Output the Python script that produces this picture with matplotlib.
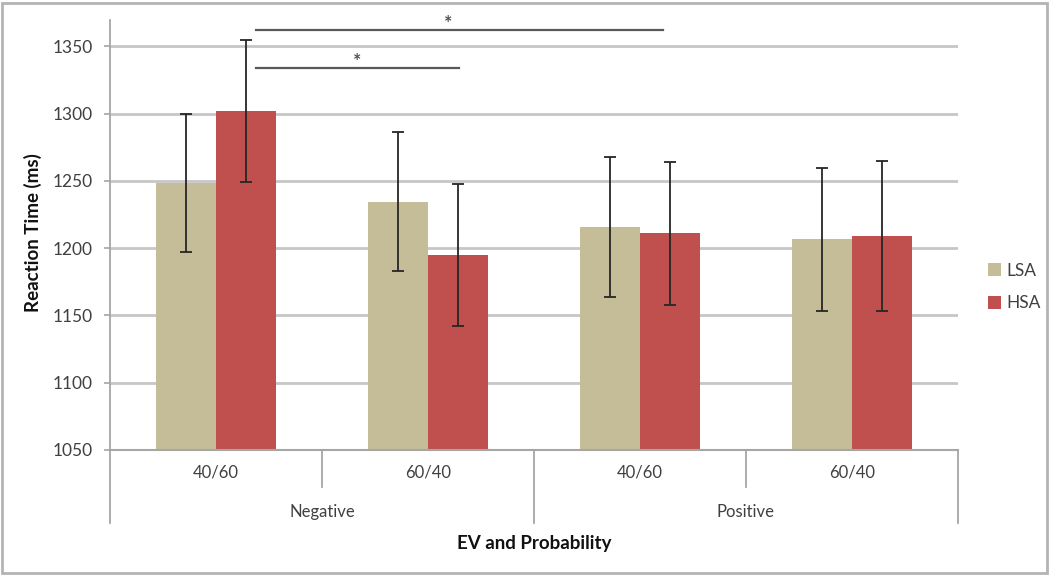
import matplotlib
matplotlib.use('Agg')
import matplotlib.pyplot as plt
import matplotlib.transforms as mtransforms
from matplotlib.patches import Rectangle
import numpy as np

plt.rcParams['font.family'] = ['Lato', 'DejaVu Sans']

# data
conditions = ['40/60', '60/40', '40/60', '60/40']
ev_groups = ['Negative', 'Positive']
series = ['LSA', 'HSA']
lsa_rt = [1248.5, 1234.5, 1216, 1206.5]
hsa_rt = [1302, 1195, 1211, 1209]
lsa_err = [51.5, 51.7, 52, 53]
hsa_err = [53, 52.5, 53, 56]

# significance brackets: (x start, x end, y, star x)
brackets = [(0.189, 2.108, 1362, 1.093), (0.189, 1.146, 1334, 0.665)]

lsa_col = '#C4BD97'
hsa_col = '#C0504D'
grid_col = '#C6C6C6'
axis_col = '#A6A6A6'
text_col = '#404040'

fig = plt.figure(figsize=(10.5, 5.75), dpi=100)
W, H = 1050, 575
ax = fig.add_axes([110 / W, 1 - 450 / H, (958 - 110) / W, (450 - 20) / H])

x = np.arange(len(conditions))
bw = 0.283
ax.bar(x - bw / 2, lsa_rt, bw, color=lsa_col, label=series[0], zorder=2)
ax.bar(x + bw / 2, hsa_rt, bw, color=hsa_col, label=series[1], zorder=2)
ax.errorbar(x - bw / 2, lsa_rt, yerr=lsa_err, fmt='none', ecolor='#262626',
            elinewidth=1.3, capsize=4, capthick=1.3, zorder=3)
ax.errorbar(x + bw / 2, hsa_rt, yerr=hsa_err, fmt='none', ecolor='#262626',
            elinewidth=1.3, capsize=4, capthick=1.3, zorder=3)

ax.set_xlim(-0.5, 3.5)
ax.set_ylim(1050, 1369.5)
ax.set_yticks(np.arange(1050, 1351, 50))
ax.yaxis.grid(True, color=grid_col, linewidth=2)
ax.set_axisbelow(True)
ax.tick_params(axis='y', length=4.5, width=1.2, color=axis_col, pad=8,
               labelsize=12.5, labelcolor=text_col)
ax.tick_params(axis='x', length=0, labelbottom=False)
for s in ['top', 'right']:
    ax.spines[s].set_visible(False)
ax.spines['left'].set_color(axis_col)
ax.spines['bottom'].set_color(axis_col)
ax.spines['left'].set_linewidth(1.3)
ax.spines['bottom'].set_linewidth(1.5)

# significance lines
for x0, x1, yy, xs in brackets:
    ax.plot([x0, x1], [yy, yy], color='#595959', linewidth=1.6, zorder=4,
            clip_on=False)
    ax.text(xs, yy - 1.5, '*', ha='center', va='bottom', fontsize=14,
            fontweight='bold', color='#505050')

# two-level category axis
trans = mtransforms.blended_transform_factory(ax.transData, ax.transAxes)
ah = 430.0
for i, lab in enumerate(conditions):
    ax.text(i, -23 / ah, lab, transform=trans, ha='center', va='center',
            fontsize=12, color=text_col)
for b in [0.5, 2.5]:
    ax.plot([b, b], [0, -37 / ah], transform=trans, color=axis_col,
            linewidth=1.3, clip_on=False)
for b in [-0.5, 1.5, 3.5]:
    ax.plot([b, b], [0, -73 / ah], transform=trans, color=axis_col,
            linewidth=1.3, clip_on=False)
for j, lab in enumerate(ev_groups):
    ax.text(0.5 + 2 * j, -62 / ah, lab, transform=trans, ha='center',
            va='center', fontsize=12, color=text_col)

fig.text(534 / W, 1 - 543 / H, 'EV and Probability', ha='center',
         va='center', fontsize=13.5, fontweight='bold', color='#111111')
fig.text(33 / W, 1 - 233 / H, 'Reaction Time (ms)', ha='center',
         va='center', rotation=90, fontsize=13.5, fontweight='bold',
         color='#111111')

leg = ax.legend(loc='center left', bbox_to_anchor=(988 / W, 1 - 287 / H),
                bbox_transform=fig.transFigure, frameon=False, fontsize=12.5,
                handlelength=0.75, handleheight=0.75, handletextpad=0.3,
                labelspacing=0.95, borderpad=0, borderaxespad=0)
for t in leg.get_texts():
    t.set_color(text_col)

# outer chart border
fig.patches.append(Rectangle((2 / W, 2 / H), 1 - 5 / W, 1 - 5 / H,
                             transform=fig.transFigure, fill=False,
                             edgecolor='#B4B4B4', linewidth=2))

fig.savefig('out.png', dpi=100)
